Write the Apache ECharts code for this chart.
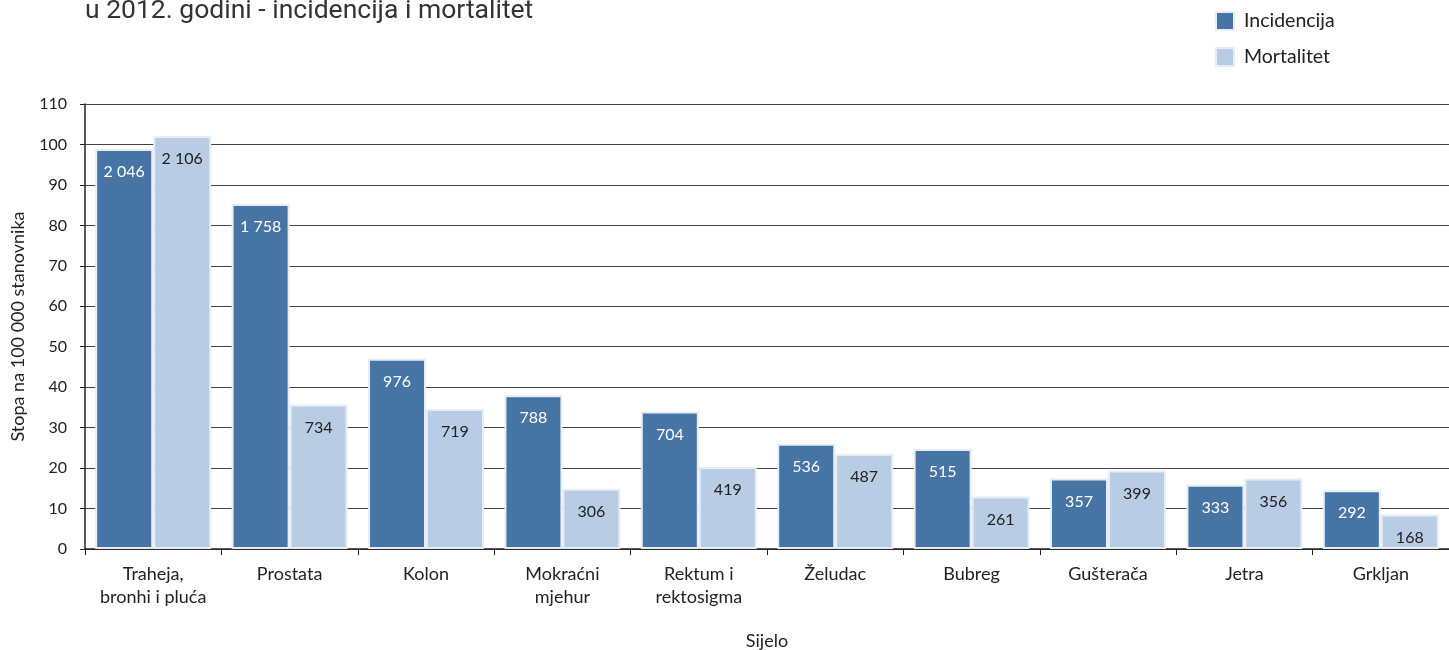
<!DOCTYPE html>
<html>
<head>
<meta charset="utf-8">
<script src="https://cdn.jsdelivr.net/npm/echarts@6/dist/echarts.min.js"></script>
<style>
  html, body { margin: 0; padding: 0; background: #fff; }
  #chart { width: 1449px; height: 650px; }
</style>
</head>
<body>
<div id="chart"></div>
<script>
var sites = ['Traheja,\nbronhi i pluća', 'Prostata', 'Kolon', 'Mokraćni\nmjehur', 'Rektum i\nrektosigma', 'Želudac', 'Bubreg', 'Gušterača', 'Jetra', 'Grkljan'];
// stope na 100 000 (visina stupca)
var incRate = [98.9, 85.3, 47.0, 38.0, 34.0, 26.0, 24.7, 17.4, 15.9, 14.5];
var mortRate = [102.1, 35.7, 34.6, 14.9, 20.3, 23.5, 13.0, 19.4, 17.4, 8.5];
// broj slucajeva (oznake u stupcima)
var incCount = [2046, 1758, 976, 788, 704, 536, 515, 357, 333, 292];
var mortCount = [2106, 734, 719, 306, 419, 487, 261, 399, 356, 168];
var yTicks = [0, 10, 20, 30, 40, 50, 60, 70, 80, 90, 100, 110];

var fmt = function(n) {
    return String(n).replace(/\B(?=(\d{3})+(?!\d))/g, ' ');
};
var font = 'Lato';

var chart = echarts.init(document.getElementById('chart'));
var option = {
    animation: false,
    title: {
        text: 'u 2012. godini - incidencija i mortalitet',
        left: 80,
        top: -7,
        textStyle: { fontFamily: 'Roboto', fontSize: 26.5, fontWeight: 'normal', color: '#333' }
    },
    legend: {
        orient: 'vertical',
        left: 1210,
        top: 6,
        itemWidth: 18,
        itemHeight: 18,
        itemGap: 16,
        icon: 'rect',
        textStyle: { fontFamily: font, fontSize: 19.5, color: '#222', padding: [0, 0, 0, 5] },
        data: ['Incidencija', 'Mortalitet']
    },
    grid: { left: 85, right: 0, top: 104, bottom: 101, containLabel: false, outerBoundsMode: 'none' },
    xAxis: {
        type: 'category',
        data: sites,
        name: 'Sijelo',
        nameLocation: 'middle',
        nameGap: 83,
        nameTextStyle: { fontFamily: font, fontSize: 18, color: '#222' },
        axisLine: { lineStyle: { color: '#222', width: 1.5 } },
        axisTick: { show: true, length: 6, lineStyle: { color: '#222' } },
        axisLabel: { fontFamily: font, fontSize: 18, color: '#222', margin: 14, lineHeight: 23, interval: 0 }
    },
    yAxis: {
        type: 'value',
        min: yTicks[0],
        max: yTicks[yTicks.length - 1],
        interval: 10,
        name: 'Stopa na 100 000 stanovnika',
        nameLocation: 'middle',
        nameGap: 58,
        nameTextStyle: { fontFamily: font, fontSize: 18, color: '#222' },
        axisLine: { show: true, lineStyle: { color: '#222', width: 1.5 } },
        axisTick: { show: true, length: 5, lineStyle: { color: '#222' } },
        axisLabel: { fontFamily: font, fontSize: 16, color: '#222', margin: 18 },
        splitLine: { lineStyle: { color: '#444', width: 1 } }
    },
    series: [
        {
            name: 'Incidencija',
            type: 'bar',
            barGap: '0%',
            barCategoryGap: '15%',
            data: incRate,
            itemStyle: { color: '#4574a5', borderColor: '#e6edf6', borderWidth: 2 },
            label: {
                show: true,
                position: 'insideTop',
                distance: 15,
                fontFamily: font,
                fontSize: 16,
                color: '#fff',
                formatter: function(p) { return fmt(incCount[p.dataIndex]); }
            }
        },
        {
            name: 'Mortalitet',
            type: 'bar',
            data: mortRate,
            itemStyle: { color: '#b8cce4', borderColor: '#e6edf6', borderWidth: 2 },
            label: {
                show: true,
                position: 'insideTop',
                distance: 15,
                fontFamily: font,
                fontSize: 16,
                color: '#222',
                formatter: function(p) { return fmt(mortCount[p.dataIndex]); }
            }
        }
    ]
};
chart.setOption(option);
</script>
</body>
</html>
